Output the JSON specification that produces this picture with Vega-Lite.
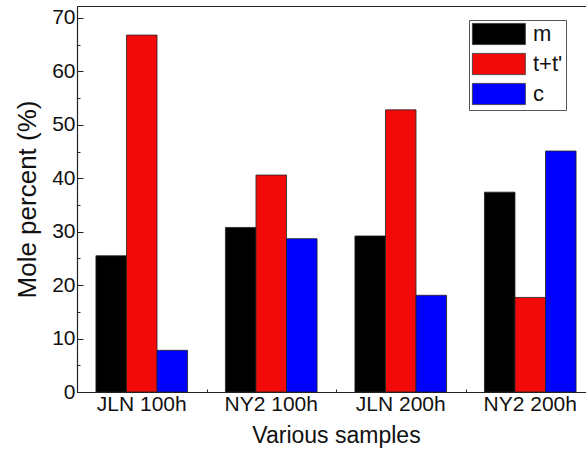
{
  "$schema": "https://vega.github.io/schema/vega-lite/v6.json",
  "width": 509,
  "height": 386,
  "autosize": {"type": "none"},
  "padding": {"left": 77, "top": 6, "right": 0, "bottom": 68},
  "background": "white",
  "config": {
    "view": {"stroke": null},
    "font": "Liberation Sans",
    "axis": {"domainColor": "#222", "tickColor": "#222", "labelColor": "#111", "titleColor": "#111", "grid": false, "labelFont": "Liberation Sans", "titleFont": "Liberation Sans", "titleFontWeight": "normal"}
  },
  "data": {
    "values": [
      {"sample": "JLN 100h", "phase": "m", "percent": 25.5},
      {"sample": "JLN 100h", "phase": "t+t'", "percent": 66.8},
      {"sample": "JLN 100h", "phase": "c", "percent": 7.8},
      {"sample": "NY2 100h", "phase": "m", "percent": 30.8},
      {"sample": "NY2 100h", "phase": "t+t'", "percent": 40.6},
      {"sample": "NY2 100h", "phase": "c", "percent": 28.7},
      {"sample": "JLN 200h", "phase": "m", "percent": 29.2},
      {"sample": "JLN 200h", "phase": "t+t'", "percent": 52.8},
      {"sample": "JLN 200h", "phase": "c", "percent": 18.1},
      {"sample": "NY2 200h", "phase": "m", "percent": 37.4},
      {"sample": "NY2 200h", "phase": "t+t'", "percent": 17.7},
      {"sample": "NY2 200h", "phase": "c", "percent": 45.1}
    ]
  },
  "resolve": {"scale": {"x": "shared", "y": "shared"}, "axis": {"x": "independent", "y": "independent"}},
  "layer": [
    {
      "mark": {"type": "bar", "stroke": "#222", "strokeWidth": 0.8},
      "encoding": {
        "x": {
          "field": "sample", "type": "nominal", "sort": ["JLN 100h", "NY2 100h", "JLN 200h", "NY2 200h"],
          "scale": {"range": [0, 518], "paddingInner": 0, "paddingOuter": 0},
          "axis": {"orient": "bottom", "title": "Various samples", "labelAngle": 0, "labelFontSize": 21, "titleFontSize": 23, "tickSize": -6, "labelPadding": 7, "titlePadding": 10, "domainWidth": 1.2}
        },
        "xOffset": {
          "field": "phase", "type": "nominal", "sort": ["m", "t+t'", "c"],
          "scale": {"paddingInner": 0, "paddingOuter": 0.62}
        },
        "y": {
          "field": "percent", "type": "quantitative",
          "scale": {"domain": [0, 72.24], "nice": false, "zero": true},
          "axis": {"orient": "left", "title": "Mole percent (%)", "values": [0, 10, 20, 30, 40, 50, 60, 70], "labelFontSize": 21, "titleFontSize": 26, "tickSize": -6, "labelPadding": 8, "titlePadding": 11, "domainWidth": 1.2}
        },
        "color": {
          "field": "phase", "type": "nominal", "sort": ["m", "t+t'", "c"],
          "scale": {"domain": ["m", "t+t'", "c"], "range": ["#000000", "#f20a0a", "#0000ff"]},
          "legend": {
            "orient": "none", "legendX": 392, "legendY": 14, "title": null,
            "symbolType": "M-1,-1H4V1H-1Z", "symbolSize": 449,
            "symbolStrokeColor": "#333", "symbolStrokeWidth": 0.8,
            "labelFontSize": 22, "labelFont": "Liberation Sans", "labelColor": "#111", "labelOffset": 39,
            "rowPadding": 4, "padding": 3, "strokeColor": "#555", "fillColor": "white"
          }
        }
      }
    },
    {
      "mark": {"type": "bar", "opacity": 0},
      "encoding": {
        "x": {
          "field": "sample", "type": "nominal", "sort": ["JLN 100h", "NY2 100h", "JLN 200h", "NY2 200h"],
          "axis": {"orient": "bottom", "title": null, "labels": false, "tickBand": "extent", "tickSize": -3, "domain": false}
        },
        "y": {
          "field": "percent", "type": "quantitative",
          "axis": {"orient": "left", "title": null, "labels": false, "values": [5, 15, 25, 35, 45, 55, 65], "tickSize": -3, "domain": false}
        }
      }
    },
    {
      "mark": {"type": "bar", "opacity": 0},
      "encoding": {
        "x": {
          "field": "sample", "type": "nominal", "sort": ["JLN 100h", "NY2 100h", "JLN 200h", "NY2 200h"],
          "axis": {"orient": "top", "title": null, "labels": false, "ticks": false, "domainWidth": 1.2}
        },
        "y": {"field": "percent", "type": "quantitative", "axis": null}
      }
    }
  ]
}
